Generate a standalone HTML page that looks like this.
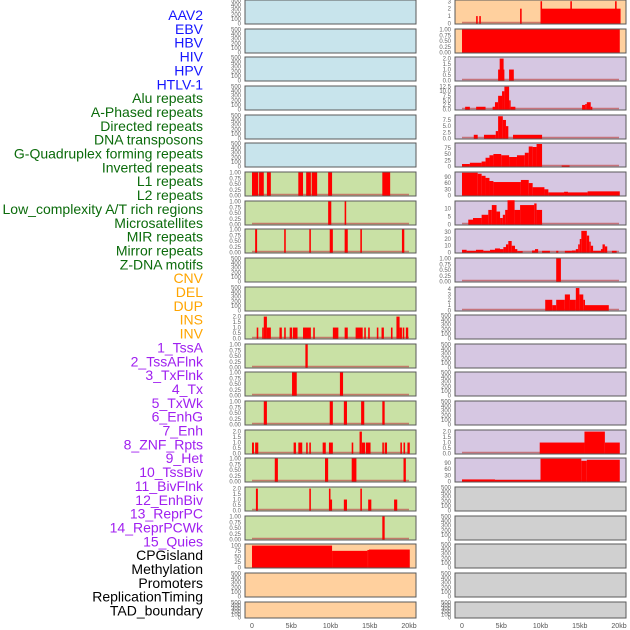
<!DOCTYPE html>
<html><head><meta charset="utf-8"><style>
body{margin:0;background:#fff;width:630px;height:630px;overflow:hidden}
svg{display:block}
</style></head><body>
<svg id="chart" width="630" height="630" font-family="Liberation Sans, sans-serif"></svg>
<script>
const labels=[["AAV2","#1515ff"],["EBV","#1515ff"],["HBV","#1515ff"],["HIV","#1515ff"],["HPV","#1515ff"],["HTLV-1","#1515ff"],
["Alu repeats","#0b6b0b"],["A-Phased repeats","#0b6b0b"],["Directed repeats","#0b6b0b"],["DNA transposons","#0b6b0b"],["G-Quadruplex forming repeats","#0b6b0b"],["Inverted repeats","#0b6b0b"],["L1 repeats","#0b6b0b"],["L2 repeats","#0b6b0b"],["Low_complexity A/T rich regions","#0b6b0b"],["Microsatellites","#0b6b0b"],["MIR repeats","#0b6b0b"],["Mirror repeats","#0b6b0b"],["Z-DNA motifs","#0b6b0b"],
["CNV","#ffa500"],["DEL","#ffa500"],["DUP","#ffa500"],["INS","#ffa500"],["INV","#ffa500"],
["1_TssA","#a020f0"],["2_TssAFlnk","#a020f0"],["3_TxFlnk","#a020f0"],["4_Tx","#a020f0"],["5_TxWk","#a020f0"],["6_EnhG","#a020f0"],["7_Enh","#a020f0"],["8_ZNF_Rpts","#a020f0"],["9_Het","#a020f0"],["10_TssBiv","#a020f0"],["11_BivFlnk","#a020f0"],["12_EnhBiv","#a020f0"],["13_ReprPC","#a020f0"],["14_ReprPCWk","#a020f0"],["15_Quies","#a020f0"],
["CPGisland","#000"],["Methylation","#000"],["Promoters","#000"],["ReplicationTiming","#000"],["TAD_boundary","#000"]];
const xTickKb=[0,5,10,15,20];
const xTickLabels=["0","5kb","10kb","15kb","20kb"];
const T500=[0,100,200,300,400,500],T1=[0,0.25,0.5,0.75,1],T2=[0,0.5,1,1.5,2];
// [start kb, end kb, value]
const leftL1=[[0,0.8,1],[0.9,1.5,1],[1.9,2.4,1],[5.9,6.5,1],[6.9,7.5,1],[7.6,8.3,1],[9.7,10.2,1],[16.6,17.6,1]];
const leftRow7=[[9.7,10.1,1],[11.8,12.0,1]];
const leftRow8=[[0.4,0.65,1],[4.1,4.3,1],[7.3,7.5,1],[9.9,10.3,1],[11.8,12.2,1],[13.8,14.0,1],[19.1,19.4,1]];
const leftRow11=[[0.6,0.8,1],[1.3,1.5,1],[1.5,1.9,2],[1.9,2.4,1],[3.5,3.8,1],[4.1,4.3,1],[4.8,5.1,1],[5.2,5.8,1],[6.5,7.5,1],[7.8,8.0,1],[10.3,11.0,1],[11.8,12.2,1],[13.2,14.1,1],[14.3,14.5,1],[14.8,15.0,1],[15.9,16.1,1],[16.5,16.8,1],[17.7,17.9,1],[18.4,18.8,2],[18.8,19.1,1],[19.2,19.4,1],[19.6,19.9,1]];
const leftRow12=[[6.8,7.1,1]];
const leftRow13=[[5.1,5.7,1],[11.2,11.6,1]];
const leftRow14=[[1.5,1.9,1],[9.9,10.3,1],[11.7,12.1,1],[13.9,14.3,1],[16.6,16.9,1]];
const leftRow15=[[0,0.25,1],[0.4,0.8,1],[5.3,5.6,1],[5.9,6.4,1],[6.9,7.1,1],[7.3,7.5,1],[9.0,9.4,1],[9.8,10.3,1],[12.7,12.9,1],[13.7,14.0,2],[14.0,14.4,1],[14.5,15.1,1],[16.6,16.8,1],[16.9,17.2,1],[18.9,19.1,1],[19.3,19.5,1],[19.8,20.1,1]];
const leftRow16=[[2.9,3.3,1],[9.3,9.7,1],[12.7,13.3,1],[19.3,19.6,1]];
const leftRow17=[[0.5,0.75,2],[7.3,7.5,2],[9.8,10.0,2],[10.0,10.2,1],[11.7,12.1,1],[13.8,14.0,2],[14.8,15.2,1],[18.1,18.5,1]];
const leftRow18=[[16.6,16.9,1]];
const leftCpg=[[0,10.2,100],[10.2,14.7,76],[14.7,14.9,80],[14.9,20.1,82]];
const rightAav=[[1.8,2.0,1],[2.2,2.4,1],[7.4,7.6,2],[10,20.2,2],[10,10.2,3],[13.8,14.0,3],[19.5,19.7,3]];
const rightRow1=[[0,20.1,1]];
const rightRow2=[[4.6,5.4,1],[4.8,5.3,2],[6.0,6.6,1]];
const rightRow3=[[0.4,1.0,1.5],[1.8,3.0,1.5],[3.9,4.2,1.5],[4.2,4.6,4],[4.6,5.1,7.5],[5.1,5.4,10],[5.4,6.0,12.5],[6.0,6.2,5],[6.2,6.8,1.5],[15.3,15.7,2.5],[15.9,16.4,4],[16.4,16.6,1.5],[15.7,15.9,3]];
const rightRow4=[[1.5,2.0,1.5],[2.8,4.3,1.5],[4.3,4.6,3],[4.6,5.2,9],[5.2,5.6,7.5],[5.6,5.9,5],[6.5,10.2,1.5]];
const rightRow5=[[0,1,10],[1,2.5,15],[2.5,3,20],[3,3.5,35],[3.5,4,45],[4,5,50],[5,6,45],[6,7,38],[7,8,45],[8,8.5,55],[8.5,9,80],[9,9.5,78],[9.5,10.2,90],[12.7,13.7,4]];
const rightRow6=[[0,2,110],[2,2.5,105],[2.5,3,95],[3,3.5,85],[3.5,4,70],[4,7.5,65],[7.5,8.5,75],[8.5,9,60],[9,10.5,40],[10.5,11,30],[11,13,15],[13,13.5,18],[13.5,16,15],[16,20.1,20]];
const rightRow7=[[0.8,1.4,3],[1.4,2.5,4],[2.5,3.35,6],[3.35,3.8,9],[3.8,4.4,12],[4.4,4.85,8],[4.85,5.2,4],[5.2,5.5,6],[5.5,5.8,9],[5.8,6.7,15],[6.7,7.4,9],[7.4,9.2,12],[9.2,9.5,13],[9.5,10.2,9]];
const rightRow8=[[0,0.59,4],[0.59,1.78,2.5],[1.78,2.72,4],[2.72,3.57,2.5],[3.57,4.2,4],[4.2,4.84,6],[4.84,5.27,5],[5.27,5.6,8],[5.6,5.9,12],[5.9,6.33,17],[6.33,6.75,10],[6.75,7.05,5],[7.05,7.73,2],[8.92,9.3,3],[9.3,9.7,5],[10.2,11.2,2.5],[12.0,12.27,2.5],[13.1,14.0,2.5],[14.0,14.5,3],[14.5,14.8,5],[14.8,15.0,12],[15.0,15.2,20],[15.2,15.9,32],[15.9,16.2,25],[16.2,16.4,16],[16.4,16.7,10],[16.7,17.7,2.5],[17.7,17.9,5],[17.9,18.2,12],[18.2,18.5,9],[19.1,19.7,2.5]];
const rightRow9=[[12.0,12.6,1]];
const rightRow10=[[10.6,11.5,2],[11.5,12.0,1],[12.0,13.1,2],[13.1,13.75,3],[13.75,14.5,2],[14.5,14.95,4.2],[14.95,15.45,3],[15.45,15.67,2],[15.67,18.7,1]];
const rightRow15=[[9.9,15.6,1],[15.6,18.2,2],[18.2,20.1,1]];
const rightRow16=[[0,4.2,10],[4.2,10,8],[10,15.2,110],[15.2,15.9,100],[15.9,20.1,105]];

const BLUE="#c8e4ec",GREEN="#c9e1a5",ORANGE="#ffd09e",PURPLE="#d6c7e2",GRAY="#d0d0d0";
const E=[];
const left=[[BLUE,T500,500,E,"aav2"],[BLUE,T500,500,E,"ebv"],[BLUE,T500,500,E,"hbv"],[BLUE,T500,500,E,"hiv"],[BLUE,T500,500,E,"hpv"],[BLUE,T500,500,E,"htlv"],
[GREEN,T1,1,leftL1,"l-6"],[GREEN,T1,1,leftRow7,"l-7"],[GREEN,T1,1,leftRow8,"l-8"],[GREEN,T500,500,E,"l-9"],[GREEN,T500,500,E,"l-10"],[GREEN,T2,2.1,leftRow11,"l-11"],
[GREEN,T1,1,leftRow12,"l-12"],[GREEN,T1,1,leftRow13,"l-13"],[GREEN,T1,1,leftRow14,"l-14"],[GREEN,T2,2.1,leftRow15,"l-15"],[GREEN,T1,1,leftRow16,"l-16"],[GREEN,T2,2.1,leftRow17,"l-17"],[GREEN,T1,1,leftRow18,"l-18"],
[ORANGE,[0,25,50,75,100],105,leftCpg,"l-19"],[ORANGE,T500,500,E,"l-20"],[ORANGE,T500,500,E,"l-21"]];
const right=[[ORANGE,[0,1,2,3],3.1,rightAav,"r-0"],[ORANGE,T1,1,rightRow1,"r-1"],[PURPLE,T2,2.1,rightRow2,"r-2"],[PURPLE,[0,2.5,5,7.5,10,12.5],12.6,rightRow3,"r-3"],
[PURPLE,[0,2.5,5,7.5],9.3,rightRow4,"r-4"],[PURPLE,[0,25,50,75],92,rightRow5,"r-5"],[PURPLE,[0,30,60,90],111,rightRow6,"r-6"],[PURPLE,[0,5,10],14.2,rightRow7,"r-7"],
[PURPLE,[0,10,20,30],34,rightRow8,"r-8"],[PURPLE,T1,1,rightRow9,"r-9"],[PURPLE,[0,1,2,3,4],4.3,rightRow10,"r-10"],[PURPLE,T500,500,E,"r-11"],[PURPLE,T500,500,E,"r-12"],
[PURPLE,T500,500,E,"r-13"],[PURPLE,T500,500,E,"r-14"],[PURPLE,T2,2.1,rightRow15,"r-15"],[PURPLE,[0,30,60,90],111,rightRow16,"r-16"],
[GRAY,T500,500,E,"r-17"],[GRAY,T500,500,E,"r-18"],[GRAY,T500,500,E,"r-19"],[GRAY,T500,500,E,"r-20"],[GRAY,T500,500,E,"r-21"]];

const svg=document.getElementById('chart');
const NS="http://www.w3.org/2000/svg";
function mk(tag,at,parent){const e=document.createElementNS(NS,tag);for(const k in at)e.setAttribute(k,at[k]);(parent||svg).appendChild(e);return e;}
labels.forEach((l,i)=>{
  const t=mk('text',{x:203,y:20+i*13.85,'text-anchor':'end','font-size':'14',fill:l[1]});
  
  
  t.textContent=l[0];
});
function fmt(v,ticks){const dec=ticks.some(t=>Math.abs(t*100%100)==25||Math.abs(t*100%100)==75)?2:(ticks.some(t=>t%1!==0)?1:0);return v.toFixed(dec);}
function panel(p,i,x0){
  const top=Math.round(i*28.65), h=(i==21?16:24), w=171;
  const g=mk('g',{});
  
  
  mk('rect',{x:x0,y:top,width:w,height:h,fill:p[0],stroke:'#5a5a5a','stroke-width':1},g);
  const xs=kb=>x0+7+kb*7.85;
  const ys=v=>top+h-0.5-v/p[2]*(h-1);
  if(p[3].length){
    const bl=mk('line',{x1:xs(0),x2:xs(20),y1:top+h-1.5,y2:top+h-1.5,stroke:'#c05050','stroke-width':1.5,opacity:0.7},g);
  }
  p[3].forEach(s=>{
    const r=mk('rect',{x:xs(s[0]),y:ys(s[2]),width:Math.max(1,xs(s[1])-xs(s[0])),height:top+h-0.5-ys(s[2]),fill:'#ff0000'},g);
    
    
  });
  p[1].forEach(t=>{
    const tt=mk('text',{x:x0-4,y:ys(t)+2,'text-anchor':'end','font-size':'6',fill:'#666'},g);
    
    
    tt.textContent=fmt(t,p[1]);
  });
}
left.forEach((p,i)=>panel(p,i,245));
right.forEach((p,i)=>panel(p,i,455));
[245,455].forEach(x0=>{
  xTickKb.forEach((k,j)=>{
    const t=mk('text',{x:x0+7+k*7.85,y:628,'text-anchor':'middle','font-size':'7',fill:'#555'});
    
    
    t.textContent=xTickLabels[j];
  });
});
</script>
</body></html>
